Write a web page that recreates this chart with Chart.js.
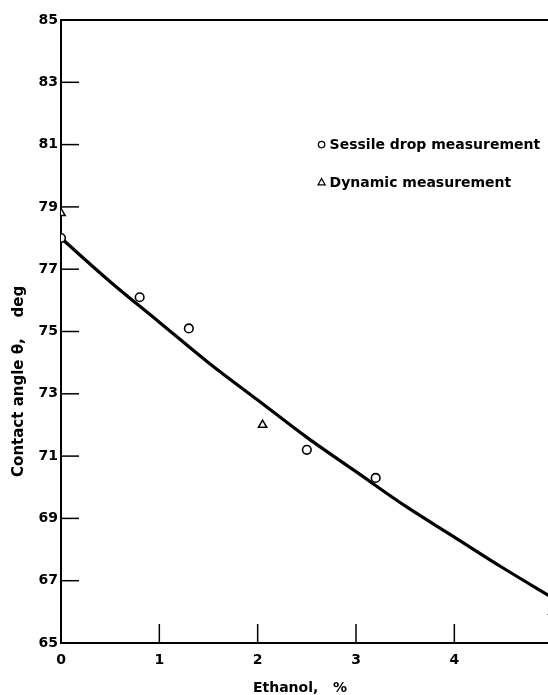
<!DOCTYPE html>
<html><head><meta charset="utf-8">
<script src="https://cdn.jsdelivr.net/npm/chart.js@4/dist/chart.umd.min.js"></script>
<style>
html,body{margin:0;padding:0;background:#fff;overflow:hidden;width:548px;height:695px}
#wrap{position:absolute;left:0;top:0;width:620px;height:695px}
</style>
</head><body><div id="wrap"><canvas id="c" width="620" height="695"></canvas></div>
<script>
// ---- data ----
const xTickValues = [0, 1, 2, 3, 4, 5];
const yTickValues = [65, 67, 69, 71, 73, 75, 77, 79, 81, 83, 85];
const sessileX = [0, 0.8, 1.3, 2.5, 3.2];
const sessileY = [78.0, 76.1, 75.1, 71.2, 70.3];
const dynamicX = [0, 2.05, 5.0];
const dynamicY = [78.8, 72.0, 66.0];
const curveX = [0, 0.5, 1, 1.5, 2, 2.5, 3, 3.5, 4, 4.5, 5];
const curveY = [78.0, 76.6, 75.3, 74.0, 72.8, 71.6, 70.5, 69.4, 68.4, 67.4, 66.45];
const seriesLabels = ['Sessile drop measurement', 'Dynamic measurement'];
const xTitle = 'Ethanol,   %';
const yTitle = 'Contact angle \u03B8,    deg';

const FONT = '"DejaVu Sans", sans-serif';
const pts = (xs, ys) => xs.map((v, i) => ({x: v, y: ys[i]}));

const decor = {
  id: 'decor',
  afterDraw(chart) {
    const {ctx, chartArea: ca, scales: {x, y}} = chart;
    ctx.save();
    ctx.strokeStyle = '#000';
    ctx.lineCap = 'butt';
    // top frame line
    ctx.lineWidth = 2;
    ctx.beginPath(); ctx.moveTo(ca.left, ca.top); ctx.lineTo(ca.right, ca.top); ctx.stroke();
    // inward tick marks
    ctx.lineWidth = 1.5;
    y.ticks.forEach(t => {
      if (t.value <= y.min || t.value >= y.max) return;
      const py = y.getPixelForValue(t.value);
      ctx.beginPath(); ctx.moveTo(ca.left, py); ctx.lineTo(ca.left + 18, py); ctx.stroke();
    });
    x.ticks.forEach(t => {
      if (t.value <= x.min) return;
      const px = x.getPixelForValue(t.value);
      ctx.beginPath(); ctx.moveTo(px, ca.bottom); ctx.lineTo(px, ca.bottom - 19); ctx.stroke();
    });
    // axis titles
    ctx.fillStyle = '#000';
    ctx.font = 'bold 14px ' + FONT;
    ctx.textAlign = 'center'; ctx.textBaseline = 'middle';
    ctx.fillText(xTitle, x.getPixelForValue(2.43), ca.bottom + 45);
    ctx.save();
    ctx.font = 'bold 15px ' + FONT;
    ctx.translate(ca.left - 42, y.getPixelForValue(73.4));
    ctx.rotate(-Math.PI / 2);
    ctx.fillText(yTitle, 0, 0);
    ctx.restore();
    // legend
    const lx = x.getPixelForValue(2.65);
    const ly1 = y.getPixelForValue(81.0);
    const ly2 = y.getPixelForValue(79.8);
    ctx.lineWidth = 1.3;
    ctx.beginPath(); ctx.arc(lx, ly1, 3.2, 0, Math.PI * 2); ctx.stroke();
    ctx.beginPath();
    ctx.moveTo(lx, ly2 - 3.5); ctx.lineTo(lx + 3.5, ly2 + 2.8); ctx.lineTo(lx - 3.5, ly2 + 2.8); ctx.closePath(); ctx.stroke();
    ctx.font = 'bold 14px ' + FONT;
    ctx.textAlign = 'left';
    ctx.fillText(seriesLabels[0], lx + 8, ly1 + 1);
    ctx.fillText(seriesLabels[1], lx + 8, ly2 + 1);
    ctx.restore();
  }
};

new Chart(document.getElementById('c'), {
  data: {
    datasets: [
      {type: 'scatter', label: seriesLabels[0], data: pts(sessileX, sessileY), order: 0,
       pointStyle: 'circle', pointRadius: 4.3, pointBorderWidth: 1.6,
       borderColor: '#000', backgroundColor: '#fff', pointBackgroundColor: '#fff', pointBorderColor: '#000'},
      {type: 'scatter', label: seriesLabels[1], data: pts(dynamicX, dynamicY), order: 0,
       pointStyle: 'triangle', pointRadius: 4.8, pointBorderWidth: 1.5,
       borderColor: '#000', backgroundColor: '#fff', pointBackgroundColor: '#fff', pointBorderColor: '#000'},
      {type: 'line', label: 'fit', data: pts(curveX, curveY), order: 1,
       borderColor: '#000', borderWidth: 3.2, pointRadius: 0, fill: false,
       cubicInterpolationMode: 'monotone'}
    ]
  },
  options: {
    responsive: false, animation: false, devicePixelRatio: 1,
    layout: {padding: {top: 20, right: 28, left: 0, bottom: 0}},
    plugins: {legend: {display: false}, tooltip: {enabled: false}},
    scales: {
      x: {type: 'linear', position: 'bottom', min: 0, max: 5.4,
          afterBuildTicks: s => { s.ticks = xTickValues.map(v => ({value: v})); },
          afterFit: s => { s.height = 52; },
          grid: {display: false, drawTicks: false},
          border: {display: true, color: '#000', width: 2},
          ticks: {color: '#000', padding: 9, font: {family: FONT, size: 14, weight: 'bold'}, maxRotation: 0}},
      y: {type: 'linear', min: 65, max: 85,
          afterBuildTicks: s => { s.ticks = yTickValues.map(v => ({value: v})); },
          afterFit: s => { s.width = 61; },
          grid: {display: false, drawTicks: false},
          border: {display: true, color: '#000', width: 2},
          ticks: {color: '#000', padding: 3, font: {family: FONT, size: 14, weight: 'bold'}}}
    }
  },
  plugins: [decor]
});
</script>
</body></html>
